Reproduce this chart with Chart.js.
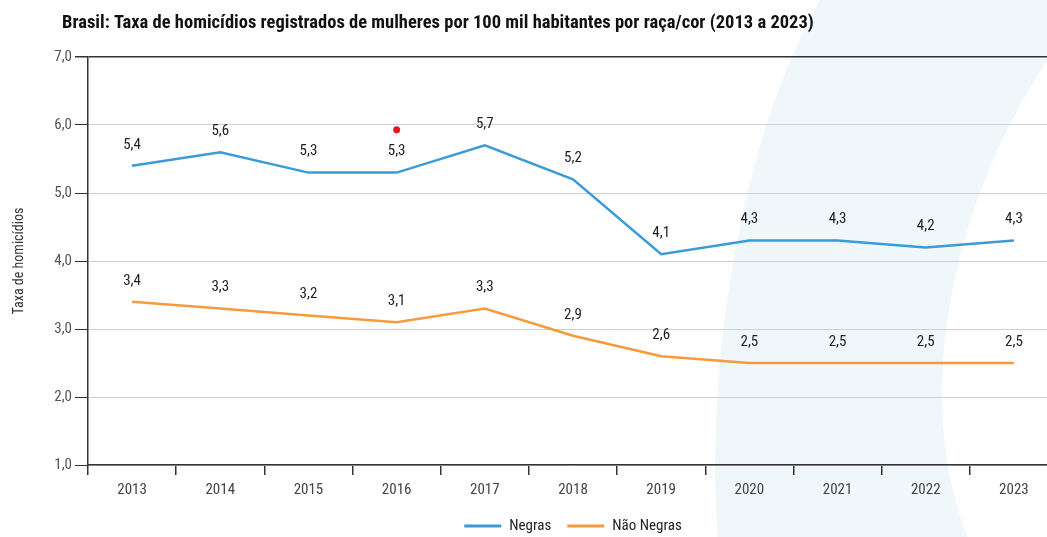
<!DOCTYPE html>
<html lang="pt-BR">
<head>
<meta charset="utf-8">
<script src="https://cdn.jsdelivr.net/npm/chart.js@4"></script>
<style>
  html, body { margin: 0; padding: 0; background: #fff; }
  #wrap { width: 1047px; height: 537px; overflow: hidden; position: relative; }
  #box { width: 1062px; height: 537px; }
</style>
</head>
<body>
<div id="wrap"><div id="box"><canvas id="taxaChart"></canvas></div></div>
<script>
// Brasil - taxa de homicidios de mulheres por raca/cor
const years = ['2013', '2014', '2015', '2016', '2017', '2018', '2019', '2020', '2021', '2022', '2023'];
const negras = [5.4, 5.6, 5.3, 5.3, 5.7, 5.2, 4.1, 4.3, 4.3, 4.2, 4.3];
const naoNegras = [3.4, 3.3, 3.2, 3.1, 3.3, 2.9, 2.6, 2.5, 2.5, 2.5, 2.5];
const redMark = [null, null, null, 5.93, null, null, null, null, null, null, null];
const seriesNames = ['Negras', 'Não Negras'];
const yMin = 1, yMax = 7, yStep = 1;

const chartTitle = 'Brasil: Taxa de homicídios registrados de mulheres por 100 mil habitantes por raça/cor (2013 a 2023)';
const yTitle = 'Taxa de homicídios';

const FONT = "'Liberation Sans Narrow', 'Roboto Condensed', Roboto, sans-serif";
const BLUE = '#3b9bd8';
const ORANGE = '#f79a3c';
const fmt = v => v.toFixed(1).replace('.', ',');

// light blue decorative band behind the plot
const bandPlugin = {
  id: 'band',
  beforeDraw(chart) {
    const c = chart.ctx;
    c.save();
    c.fillStyle = '#eff7fa';
    c.beginPath();
    c.moveTo(820, 0);
    c.lineTo(1062, 0);
    c.lineTo(1062, 40);
    c.bezierCurveTo(965, 170, 905, 380, 968, 537);
    c.lineTo(718, 537);
    c.bezierCurveTo(706, 380, 735, 150, 820, 0);
    c.closePath();
    c.fill();
    c.restore();
  }
};

const labelPlugin = {
  id: 'valueLabels',
  afterDatasetsDraw(chart) {
    const c = chart.ctx;
    c.save();
    c.font = '15px ' + FONT;
    c.fillStyle = '#222';
    c.textAlign = 'center';
    c.textBaseline = 'middle';
    [0, 1].forEach(di => {
      const meta = chart.getDatasetMeta(di);
      meta.data.forEach((pt, i) => {
        c.fillText(fmt(chart.data.datasets[di].data[i]), pt.x, pt.y - 21);
      });
    });
    c.restore();
  },
  afterDraw(chart) {
    const c = chart.ctx;
    const area = chart.chartArea;
    c.save();
    // title
    c.font = 'bold 18.5px ' + FONT;
    c.fillStyle = '#111';
    c.textAlign = 'left';
    c.textBaseline = 'middle';
    c.fillText(chartTitle, 62, 23);
    // legend, centred on plot area
    c.font = '15px ' + FONT;
    const items = [0, 1].map(di => ({
      text: seriesNames[di],
      color: chart.data.datasets[di].borderColor,
      w: 37 + 8 + c.measureText(seriesNames[di]).width
    }));
    const gap = 16;
    const total = items.reduce((s, it) => s + it.w, 0) + gap * (items.length - 1);
    let x = (area.left + area.right) / 2 - total / 2;
    const y = 526;
    items.forEach(it => {
      c.fillStyle = it.color;
      c.fillRect(x, y - 1.5, 37, 3);
      c.fillStyle = '#222';
      c.fillText(it.text, x + 45, y);
      x += it.w + gap;
    });
    c.restore();
  }
};

new Chart(document.getElementById('taxaChart'), {
  type: 'line',
  data: {
    labels: years,
    datasets: [
      { label: seriesNames[0], data: negras, borderColor: BLUE, backgroundColor: BLUE, borderWidth: 2.5, pointRadius: 0, tension: 0 },
      { label: seriesNames[1], data: naoNegras, borderColor: ORANGE, backgroundColor: ORANGE, borderWidth: 2.5, pointRadius: 0, tension: 0 },
      { label: '', data: redMark, showLine: false, pointRadius: 3.5, pointBackgroundColor: '#e3191c', pointBorderWidth: 0, borderColor: '#e3191c' }
    ]
  },
  options: {
    responsive: true,
    maintainAspectRatio: false,
    animation: false,
    layout: { padding: { top: 57, left: 0, right: 0, bottom: 0 } },
    plugins: { legend: { display: false }, tooltip: { enabled: false } },
    scales: {
      x: {
        offset: true,
        afterFit(s) { s.height = 72; },
        grid: { offset: true, drawOnChartArea: false, tickLength: 10, tickColor: '#333', lineWidth: 1.5 },
        border: { color: '#333', width: 1.5 },
        ticks: { color: '#444', font: { family: FONT, size: 15 }, padding: 6 }
      },
      y: {
        min: yMin, max: yMax,
        afterFit(s) { s.width = 88; },
        ticks: { stepSize: yStep, color: '#555', font: { family: FONT, size: 15 }, padding: 3, callback: v => fmt(v) },
        grid: {
          color: ctx => ctx.tick && ctx.tick.value === yMax ? '#333' : '#cfcfcf',
          lineWidth: ctx => ctx.tick && ctx.tick.value === yMax ? 1.5 : 1,
          tickColor: '#333', tickLength: 13
        },
        border: { color: '#333', width: 1.5 },
        title: { display: true, text: yTitle, color: '#333', font: { family: FONT, size: 14 }, padding: { top: 11, bottom: 0 } }
      }
    }
  },
  plugins: [bandPlugin, labelPlugin]
});
</script>
</body>
</html>
